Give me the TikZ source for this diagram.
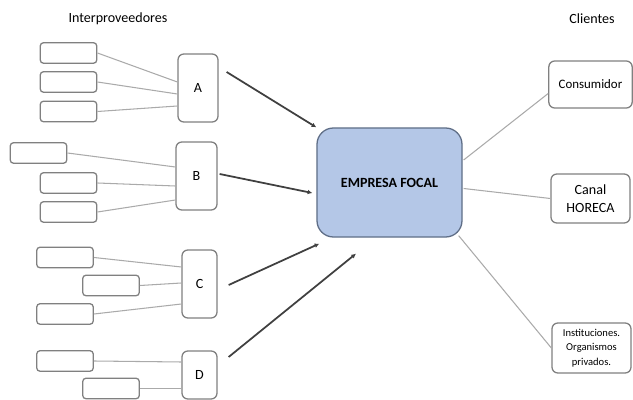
\documentclass[tikz,border=0pt]{standalone}
\usepackage{fontspec}
\setmainfont{Carlito}
\usepackage{tikz}
\usetikzlibrary{arrows.meta, calc}

\definecolor{boxgray}{RGB}{128,128,128}
\definecolor{linegray}{RGB}{170,170,170}
\definecolor{arrowdark}{RGB}{64,64,64}
\definecolor{focalfill}{RGB}{180,199,231}
\definecolor{focaldraw}{RGB}{95,110,135}

\begin{document}
\begin{tikzpicture}[x=0.03cm, y=-0.03cm,
    supplier/.style={draw=boxgray, line width=1.1pt, rounded corners=3pt, minimum width=1.7cm, minimum height=0.62cm, inner sep=0pt},
    middle/.style={draw=boxgray, line width=1.1pt, rounded corners=5pt, inner sep=0pt, font=\fontsize{12}{14}\selectfont},
    client/.style={draw=boxgray, line width=1.1pt, rounded corners=5pt, inner sep=0pt, align=center},
    feed/.style={draw=linegray, line width=0.9pt},
    flow/.style={draw=arrowdark, line width=1.5pt, -{Latex[length=4pt,width=4pt]}}]
    \useasboundingbox (0,0) rectangle (633,400);

    % titles
    \node[font=\fontsize{12}{14}\selectfont] at (118,19) (tin) {Interproveedores};
    \node[font=\fontsize{12}{14}\selectfont] at (592,19) (tout) {Clientes};

    % intermediate suppliers
    \node[middle, minimum width=1.2cm, minimum height=2.04cm] at (198,88) (A) {A};
    \node[middle, minimum width=1.23cm, minimum height=2.04cm] at (196.5,176) (B) {B};
    \node[middle, minimum width=1.05cm, minimum height=2.04cm] at (199.5,284) (C) {C};
    \node[middle, minimum width=1.05cm, minimum height=1.44cm] at (199.5,375) (D) {D};

    % their own suppliers
    \node[supplier] at (68.5,53) (a1) {};
    \node[supplier] at (68.5,82) (a2) {};
    \node[supplier] at (68.5,111.5) (a3) {};
    \node[supplier] at (38.5,153) (b1) {};
    \node[supplier] at (68.5,183) (b2) {};
    \node[supplier] at (68.5,212) (b3) {};
    \node[supplier] at (65,257.5) (c1) {};
    \node[supplier] at (111,285.5) (c2) {};
    \node[supplier] at (65,314) (c3) {};
    \node[supplier] at (65,361) (d1) {};
    \node[supplier] at (111,388.5) (d2) {};

    \draw[feed] (a1.east) -- ($(A.west)+(0,-6)$);
    \draw[feed] (a2.east) -- ($(A.west)+(0,6)$);
    \draw[feed] (a3.east) -- ($(A.west)+(0,18)$);
    \draw[feed] (b1.east) -- ($(B.west)+(0,-9)$);
    \draw[feed] (b2.east) -- ($(B.west)+(0,10)$);
    \draw[feed] (b3.east) -- ($(B.west)+(0,24)$);
    \draw[feed] (c1.east) -- ($(C.west)+(0,-17)$);
    \draw[feed] (c2.east) -- ($(C.west)+(0,-1)$);
    \draw[feed] (c3.east) -- ($(C.west)+(0,20)$);
    \draw[feed] (d1.east) -- ($(D.west)+(0,-13)$);
    \draw[feed] (d2.east) -- ($(D.west)+(0,13.5)$);

    % focal company
    \node[draw=focaldraw, fill=focalfill, line width=1.1pt, rounded corners=14pt,
          minimum width=4.35cm, minimum height=3.27cm,
          font=\bfseries\fontsize{12}{14}\selectfont] at (389.5,182.5) (focal) {EMPRESA FOCAL};

    \draw[flow] ($(A.east)+(8,-16)$) -- (focal.north west);
    \draw[flow] ($(B.east)+(2,-2)$) -- ($(focal.west)+(-4,10.5)$);
    \draw[flow] ($(C.east)+(11,1)$) -- ($(focal.south west)+(3,6)$);
    \draw[flow] ($(D.east)+(11,-18)$) -- ($(focal.south)+(-33.5,16)$);

    % customers
    \node[client, minimum width=2.5cm, minimum height=1.41cm, font=\fontsize{11}{13}\selectfont] at (590.5,84.5) (cons) {Consumidor};
    \node[client, minimum width=2.37cm, minimum height=1.47cm, font=\fontsize{12}{15}\selectfont] at (590.5,198.5) (horeca) {Canal\\HORECA};
    \node[client, minimum width=2.37cm, minimum height=1.5cm, font=\fontsize{9}{12.5}\selectfont] at (591.5,348) (inst) {Instituciones.\\Organismos\\privados.};

    \draw[feed] ($(focal.east)+(1,-22.5)$) -- ($(cons.west)+(0,9)$);
    \draw[feed] ($(focal.east)+(1,6)$) -- (horeca.west);
    \draw[feed] ($(focal.south east)+(-4,-2)$) -- (inst.west);
\end{tikzpicture}
\end{document}
